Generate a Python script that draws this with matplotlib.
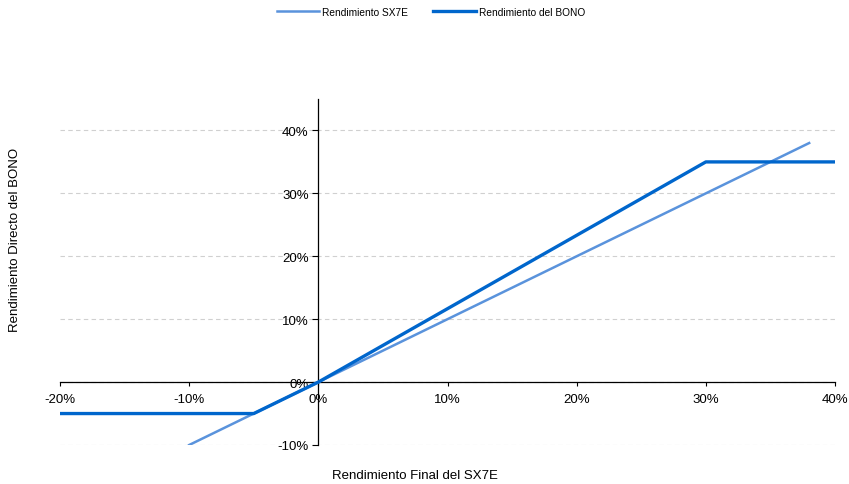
import matplotlib
matplotlib.use("Agg")
import matplotlib.pyplot as plt
from matplotlib.ticker import FuncFormatter

plt.rcParams['font.family'] = ['Liberation Sans', 'DejaVu Sans']

# Data (returns in %)
sx7e_x = [-10, 38]
sx7e_y = [-10, 38]
bono_x = [-20, -5, 0, 30, 40]
bono_y = [-5, -5, 0, 35, 35]

x_ticks = [-20, -10, 0, 10, 20, 30, 40]
y_ticks = [-10, 0, 10, 20, 30, 40]

fig = plt.figure(figsize=(8.49, 4.85), dpi=100)
ax = fig.add_axes([60/849, 1-446/485, (835-60)/849, (446-100)/485])

c_sx = '#5A93DC'
c_bo = '#0066CC'

for yv in y_ticks:
    ax.axhline(yv, color='#d0d0d0', lw=0.8, ls=(0, (4, 3)), zorder=0)

ax.plot(sx7e_x, sx7e_y, color=c_sx, lw=1.8, label='Rendimiento SX7E', zorder=3)
ax.plot(bono_x, bono_y, color=c_bo, lw=2.4, label='Rendimiento del BONO', zorder=4)

ax.set_xlim(-20, 40)
ax.set_ylim(-10, 45)
ax.set_xticks(x_ticks)
ax.set_yticks(y_ticks)
fmt = FuncFormatter(lambda v, p: f"{v:.0f}%")
ax.xaxis.set_major_formatter(fmt)
ax.yaxis.set_major_formatter(fmt)

ax.spines['left'].set_position(('data', 0))
ax.spines['bottom'].set_position(('data', 0))
ax.spines['right'].set_visible(False)
ax.spines['top'].set_visible(False)
for s in ('left', 'bottom'):
    ax.spines[s].set_color('black')
    ax.spines[s].set_linewidth(0.9)
ax.tick_params(axis='both', direction='out', length=4, width=0.8, labelsize=9.5, colors='black', pad=3)
ax.tick_params(axis='x', length=3, pad=5)

fig.text(332/849, 1-476/485, 'Rendimiento Final del SX7E', fontsize=9.5, ha='left', va='center')
fig.text(15/849, 1-240/485, 'Rendimiento Directo del BONO', fontsize=9.5, rotation=90, ha='center', va='center')

leg = fig.legend(loc='center', bbox_to_anchor=(431/849, 1-13/485), ncol=2, frameon=False,
                 fontsize=7.3, handlelength=4.2, columnspacing=2.5, handletextpad=0.3)

fig.savefig('out.png', dpi=100)
